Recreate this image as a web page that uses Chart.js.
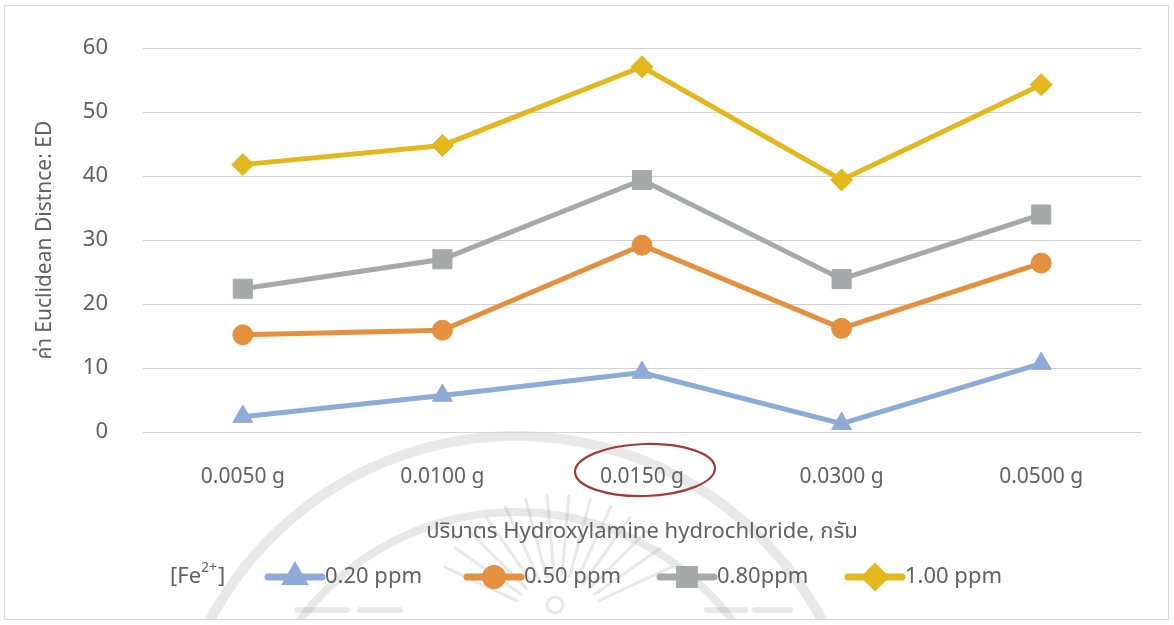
<!DOCTYPE html>
<html>
<head>
<meta charset="utf-8">
<title>Euclidean Distance vs Hydroxylamine hydrochloride</title>
<script src="https://cdn.jsdelivr.net/npm/chart.js@4.4.1/dist/chart.umd.min.js"></script>
<style>
  html, body { margin: 0; padding: 0; background: #ffffff; }
  #wrap { position: relative; width: 1174px; height: 625px; }
</style>
</head>
<body>
<div id="wrap"><canvas id="chart"></canvas></div>
<script>
// Hydroxylamine hydrochloride amounts (x categories)
const categories = ['0.0050 g', '0.0100 g', '0.0150 g', '0.0300 g', '0.0500 g'];

// Euclidean distance (ED) for each Fe2+ concentration
const fe020 = [2.4, 5.7, 9.3, 1.3, 10.7];
const fe050 = [15.2, 15.9, 29.2, 16.2, 26.4];
const fe080 = [22.4, 27.0, 39.4, 23.9, 34.0];
const fe100 = [41.8, 44.8, 57.1, 39.4, 54.3];

const seriesLabels = ['0.20 ppm', '0.50 ppm', '0.80ppm', '1.00 ppm'];

// value axis range
const yMin = 0;
const yMax = 60;
const yStep = 10;

const highlightIndex = 2; // the category circled in red

const FONT = '"Noto Sans", "Noto Sans Thai", "Loma", "Garuda", "DejaVu Sans", sans-serif';
const TEXT = '#616161';

// page frame and faint seal watermark behind the plot
const backdrop = {
  id: 'backdrop',
  beforeDraw(chart) {
    const ctx = chart.ctx;
    ctx.save();
    ctx.fillStyle = '#ffffff';
    ctx.fillRect(0, 0, chart.width, chart.height);
    ctx.strokeStyle = '#d6d6d6';
    ctx.lineWidth = 1;
    ctx.strokeRect(4.5, 5.5, 1164, 614);

    ctx.beginPath();
    ctx.rect(5, 6, 1163, 613);
    ctx.clip();
    ctx.strokeStyle = 'rgba(140,140,140,0.20)';
    ctx.lineCap = 'round';
    ctx.lineWidth = 10;
    ctx.beginPath(); ctx.arc(516, 782, 346, Math.PI * 1.0, Math.PI * 2.0); ctx.stroke();
    ctx.lineWidth = 8;
    ctx.beginPath(); ctx.arc(516, 782, 270, Math.PI * 1.05, Math.PI * 1.95); ctx.stroke();
    ctx.lineWidth = 3;
    for (let a = 205; a <= 335; a += 10) {
      const r = a * Math.PI / 180;
      ctx.beginPath();
      ctx.moveTo(558 + Math.cos(r) * 45, 620 + Math.sin(r) * 45);
      ctx.lineTo(558 + Math.cos(r) * 125, 620 + Math.sin(r) * 125);
      ctx.stroke();
    }
    ctx.lineWidth = 6;
    ctx.beginPath(); ctx.moveTo(297, 610); ctx.lineTo(347, 610); ctx.stroke();
    ctx.beginPath(); ctx.moveTo(360, 610); ctx.lineTo(400, 610); ctx.stroke();
    ctx.beginPath(); ctx.moveTo(707, 610); ctx.lineTo(745, 610); ctx.stroke();
    ctx.beginPath(); ctx.moveTo(755, 610); ctx.lineTo(790, 610); ctx.stroke();
    ctx.lineWidth = 3;
    ctx.beginPath(); ctx.arc(555, 605, 8, 0, Math.PI * 2); ctx.stroke();
    ctx.restore();
  }
};

// red ellipse around the highlighted category label, plus the legend row
const overlay = {
  id: 'overlay',
  afterDraw(chart) {
    const ctx = chart.ctx;
    const xs = chart.scales.x;
    const cx = xs.getPixelForTick(highlightIndex) + 3;
    const cy = chart.chartArea.bottom + 38;
    ctx.save();
    ctx.strokeStyle = '#a83a34';
    ctx.lineWidth = 2.2;
    ctx.beginPath();
    ctx.ellipse(cx, cy, 70, 26, -0.03, 0, Math.PI * 2);
    ctx.stroke();

    // legend
    const ly = 577;
    ctx.fillStyle = TEXT;
    ctx.textBaseline = 'middle';
    ctx.textAlign = 'left';
    ctx.font = '22px ' + FONT;
    ctx.fillText('[Fe', 170, ly);
    const w = ctx.measureText('[Fe').width;
    ctx.font = '14px ' + FONT;
    ctx.fillText('2+', 170 + w, ly - 9);
    const w2 = ctx.measureText('2+').width;
    ctx.font = '22px ' + FONT;
    ctx.fillText(']', 170 + w + w2 + 1, ly);

    const starts = [265, 464, 657, 845];
    const legendRadius = [9, 8.5, 10.5, 9.5];
    chart.data.datasets.forEach((ds, i) => {
      const x0 = starts[i];
      const x1 = x0 + 60;
      ctx.strokeStyle = ds.borderColor;
      ctx.lineWidth = 7;
      ctx.lineCap = 'round';
      ctx.beginPath(); ctx.moveTo(x0 + 3, ly); ctx.lineTo(x1 - 3, ly); ctx.stroke();
      ctx.fillStyle = ds.pointBackgroundColor;
      ctx.strokeStyle = ds.pointBorderColor;
      Chart.helpers.drawPoint(ctx, {
        pointStyle: ds.pointStyle,
        radius: legendRadius[i],
        rotation: 0,
        borderWidth: 1
      }, (x0 + x1) / 2, ly);
      ctx.fillStyle = TEXT;
      ctx.font = '22px ' + FONT;
      ctx.fillText(ds.label, x1, ly);
    });
    ctx.restore();
  }
};

function series(label, data, color, style, radius) {
  return {
    label, data,
    borderColor: color,
    backgroundColor: color,
    pointBackgroundColor: color,
    pointBorderColor: color,
    pointBorderWidth: 1,
    borderWidth: 5,
    pointStyle: style,
    pointRadius: radius,
    pointHoverRadius: radius,
    tension: 0,
    fill: false
  };
}

new Chart(document.getElementById('chart'), {
  type: 'line',
  data: {
    labels: categories,
    datasets: [
      series(seriesLabels[0], fe020, '#8eaad9', 'triangle', 11.5),
      series(seriesLabels[1], fe050, '#e5903f', 'circle', 10),
      series(seriesLabels[2], fe080, '#a5a9aa', 'rect', 13.5),
      series(seriesLabels[3], fe100, '#e3b81c', 'rectRot', 11)
    ]
  },
  options: {
    responsive: true,
    maintainAspectRatio: false,
    animation: false,
    devicePixelRatio: 1,
    layout: { padding: { left: 0, right: 33, top: 43, bottom: 0 } },
    plugins: {
      legend: { display: false },
      tooltip: { enabled: false }
    },
    scales: {
      x: {
        type: 'category',
        offset: true,
        grid: { display: false, drawTicks: false },
        border: { display: false },
        ticks: {
          color: TEXT,
          font: { family: FONT, size: 21 },
          padding: 32,
          maxRotation: 0
        },
        title: {
          display: true,
          text: 'ปริมาตร Hydroxylamine hydrochloride, กรัม',
          color: TEXT,
          font: { family: FONT, size: 22 },
          padding: { top: 0, bottom: 80 }
        },
        afterFit(scale) { scale.height = 193; }
      },
      y: {
        min: yMin,
        max: yMax,
        grid: { color: '#d2d2d2', lineWidth: 1, drawTicks: false },
        border: { display: false },
        ticks: {
          stepSize: yStep,
          color: TEXT,
          font: { family: FONT, size: 22 },
          padding: 35
        },
        title: {
          display: true,
          text: 'ค่า Euclidean Distnce: ED',
          color: TEXT,
          font: { family: FONT, size: 21 },
          padding: { top: 32, bottom: 0 }
        },
        afterFit(scale) { scale.width = 143; }
      }
    }
  },
  plugins: [backdrop, overlay]
});
</script>
</body>
</html>
